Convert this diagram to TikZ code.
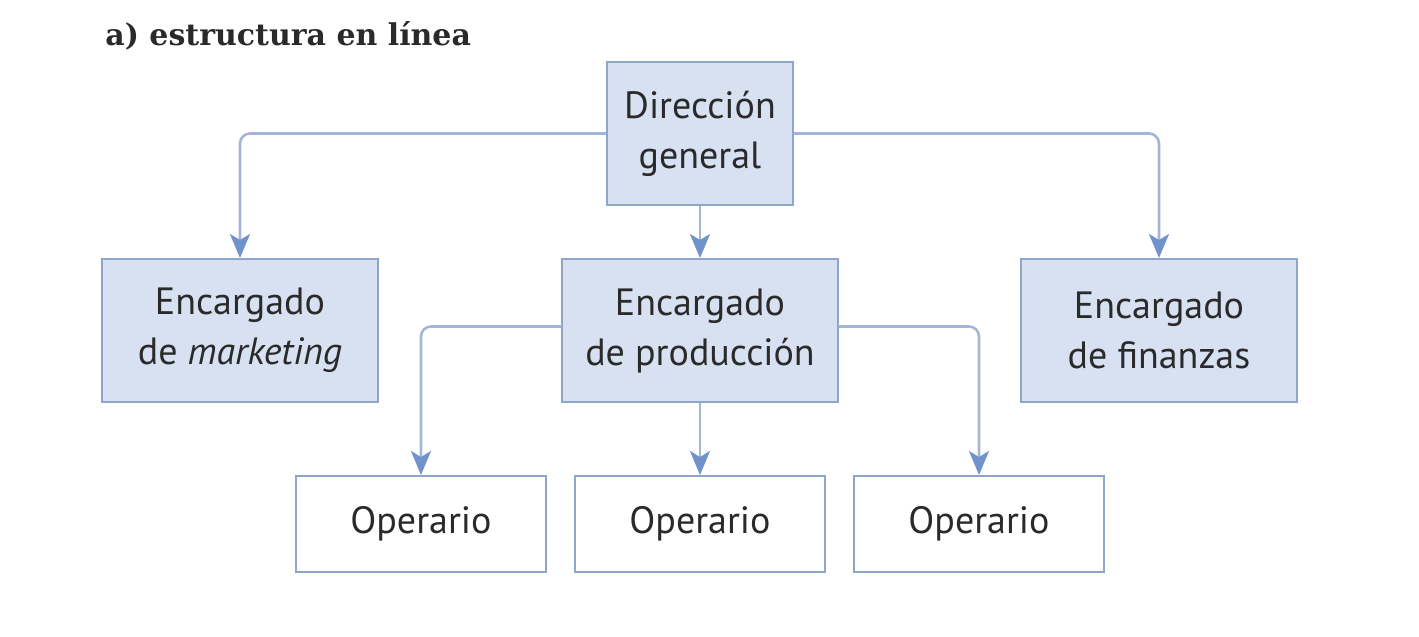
\documentclass[tikz,border=0pt]{standalone}
\usepackage{fontspec}
\setmainfont{PT Sans}
\newfontfamily\titlefont{DejaVu Serif}
\usepackage{tikz}
\usetikzlibrary{arrows.meta,positioning}
\definecolor{boxfill}{HTML}{D7E1F2}
\definecolor{boxline}{HTML}{8FA6CB}
\definecolor{wire}{HTML}{A3B6D8}
\definecolor{tip}{HTML}{7093CC}
\definecolor{ink}{HTML}{2A2A2A}

\begin{document}
\begin{tikzpicture}[
  node distance=26pt and 91pt,
  font=\fontsize{19}{25}\selectfont,
  lead/.style={draw=boxline,line width=1pt,fill=boxfill,minimum width=93pt,minimum height=71.5pt,align=center,text=ink,inner sep=2pt},
  unit/.style={lead,minimum width=138pt},
  worker/.style={draw=boxline,line width=1pt,fill=white,minimum width=125pt,minimum height=48pt,align=center,text=ink},
  arrow/.style={-{Stealth[length=12pt,width=10pt,inset=3pt,color=tip]},line width=1.3pt,draw=wire,rounded corners=5pt}
]
\useasboundingbox (-350pt,-251.75pt) rectangle (359.5pt,66.75pt);
\node[anchor=base west,font=\titlefont\bfseries\fontsize{15}{18}\selectfont,text=ink,inner sep=0pt] (title) at (-297.5pt,44.25pt) {a) estructura en línea};
\node[lead] (dir) at (0,0) {Dirección\\general};
\node[unit,below=of dir] (prod) {Encargado\\de producción};
\node[unit,left=of prod] (mkt) {Encargado\\de \emph{marketing}};
\node[unit,right=90.5pt of prod] (fin) {Encargado\\de finanzas};
\node[worker,below=36pt of prod] (op2) {Operario};
\node[worker,left=13.5pt of op2] (op1) {Operario};
\node[worker,right=13.5pt of op2] (op3) {Operario};
\draw[arrow] (dir.west) -| (mkt.north);
\draw[arrow] (dir.east) -| (fin.north);
\draw[arrow] (dir) -- (prod);
\draw[arrow] ([yshift=2pt]prod.west) -| (op1.north);
\draw[arrow] ([yshift=2pt]prod.east) -| (op3.north);
\draw[arrow] (prod) -- (op2);
\end{tikzpicture}
\end{document}
